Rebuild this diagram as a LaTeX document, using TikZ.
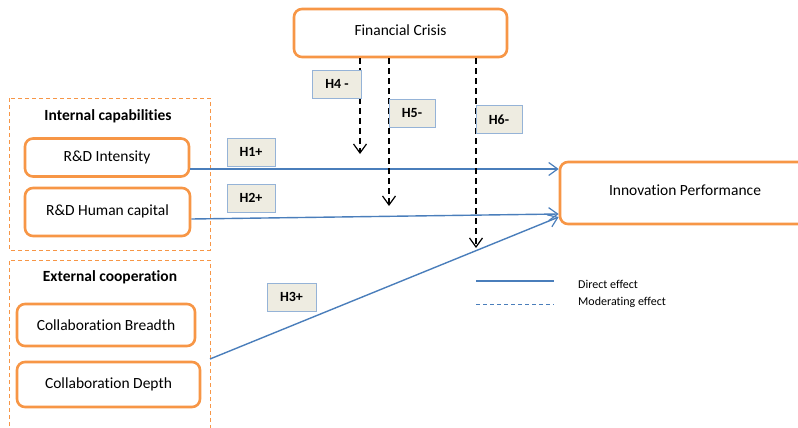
\documentclass[tikz,border=0pt]{standalone}
\usepackage{fontspec}
\setmainfont{Carlito}[Ligatures=NoCommon]
\usetikzlibrary{arrows.meta}
\definecolor{orng}{HTML}{F79646}
\definecolor{blu}{HTML}{4A7EBB}
\definecolor{hfill}{HTML}{EEECE1}
\definecolor{hline}{HTML}{95B3D7}
\tikzset{
  box/.style={draw=orng, line width=2.6pt, rounded corners=8pt, fill=white, inner sep=0pt, font=\fontsize{15.5}{18}\selectfont},
  frame/.style={draw=orng, line width=0.9pt, dash pattern=on 4pt off 3pt},
  hlab/.style={draw=hline, fill=hfill, line width=0.8pt, minimum height=28pt, inner sep=0pt, font=\fontsize{14}{16}\selectfont\bfseries},
  grp/.style={font=\fontsize{15.5}{18}\selectfont\bfseries, inner sep=0pt},
  direct/.style={draw=blu, line width=1.4pt, -{Straight Barb[length=9pt,width=13pt,line width=1.2pt]}},
  mod/.style={draw=black, line width=1.4pt, dash pattern=on 6pt off 4pt, -{Straight Barb[length=9pt,width=13pt,line width=1.2pt]}},
  leg/.style={font=\fontsize{12}{14}\selectfont, inner sep=0pt, anchor=west}
}
\begin{document}
\begin{tikzpicture}[x=1pt,y=-1pt]
\useasboundingbox (0,0) rectangle (798,428);
% group frames
\draw[frame] (9,98) rectangle (210,250);
\draw[frame] (9,440) -- (9,260) -- (210,260) -- (210,440);
\node[grp] (gint) at (108,116) {Internal capabilities};
\node[grp] (gext) at (110,277) {External cooperation};
% boxes
\node[box, minimum width=213pt, minimum height=48pt] (fc) at (400.5,33) {\raisebox{5pt}{Financial Crisis}};
\node[box, minimum width=164pt, minimum height=38pt] (ri) at (107,157.5) {R\&D Intensity};
\node[box, minimum width=165pt, minimum height=48pt] (rh) at (107.5,212) {\raisebox{3pt}{R\&D Human capital}};
\node[box, minimum width=178pt, minimum height=42pt] (cb) at (106,325) {Collaboration Breadth};
\node[box, minimum width=183pt, minimum height=45pt] (cd) at (108.5,384.5) {Collaboration Depth};
\node[box, minimum width=250pt, minimum height=62pt] (ip) at (685,193) {\raisebox{5pt}{Innovation Performance}};
% direct effects
\coordinate (h3start) at (210,359);
\draw[direct] ([yshift=-11.5pt]ri.east) -- ([yshift=24pt]ip.west);
\draw[direct] ([yshift=-7pt]rh.east) -- ([yshift=-21pt]ip.west);
\draw[direct] (h3start) -- ([yshift=-24pt]ip.west);
% moderating effects
\coordinate (h4end) at (360,154);
\coordinate (h5end) at (389,206);
\coordinate (h6end) at (476,248);
\draw[mod] (fc.south -| h4end) -- (h4end);
\draw[mod] (fc.south -| h5end) -- (h5end);
\draw[mod] (fc.south -| h6end) -- (h6end);
% hypothesis labels
\node[hlab, minimum width=49pt] (h4) at (337,84) {H4 -};
\node[hlab, minimum width=46pt] (h5) at (412,113) {H5-};
\node[hlab, minimum width=46pt] (h6) at (499,119.5) {H6-};
\node[hlab, minimum width=48pt] (h1) at (251,152) {H1+};
\node[hlab, minimum width=48pt] (h2) at (251,198) {H2+};
\node[hlab, minimum width=49pt] (h3) at (291.5,297) {H3+};
% legend
\coordinate (l1a) at (476,281);
\coordinate (l1b) at (554,281);
\coordinate (l2a) at (476,304);
\coordinate (l2b) at (554,304);
\draw[draw=blu, line width=1.2pt] (l1a) -- (l1b);
\draw[draw=blu, line width=1pt, dash pattern=on 4pt off 3pt] (l2a) -- (l2b);
\node[leg] (ld) at (578,284) {Direct effect};
\node[leg] (lm) at (578,302) {Moderating effect};
\end{tikzpicture}
\end{document}
